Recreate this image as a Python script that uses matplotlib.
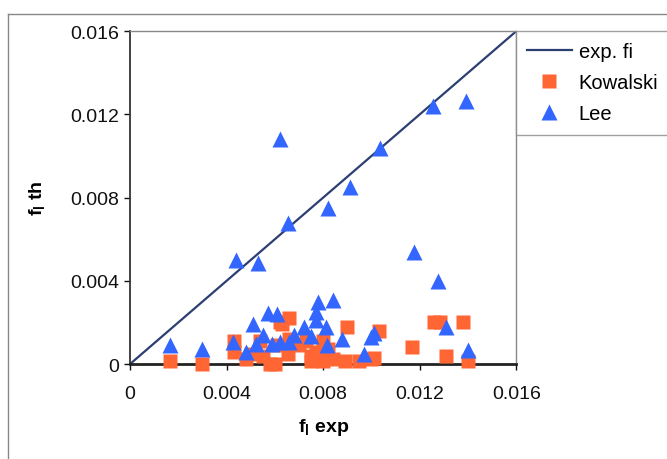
import matplotlib
matplotlib.use("Agg")
import matplotlib.pyplot as plt
from matplotlib.lines import Line2D

plt.rcParams['font.family'] = ['Liberation Sans', 'DejaVu Sans']
plt.rcParams['mathtext.fontset'] = 'custom'
plt.rcParams['mathtext.bf'] = 'Liberation Sans:bold'
plt.rcParams['mathtext.rm'] = 'Liberation Sans'

# Kowalski model: experimental vs theoretical f_l
kow_x = [0.00166, 0.0030, 0.0043, 0.0043, 0.0048, 0.0050, 0.0054, 0.0055, 0.0058,
         0.0060, 0.0061, 0.0062, 0.0063, 0.0066, 0.00655, 0.0066, 0.0070, 0.0073,
         0.0075, 0.0075, 0.0077, 0.0080, 0.0080, 0.0082, 0.0084, 0.0089, 0.0090,
         0.0095, 0.0100, 0.0101, 0.0103, 0.0117, 0.01258, 0.01285, 0.0131, 0.0138,
         0.0140]
kow_y = [0.00015, 0.00002, 0.0011, 0.0006, 0.00025, 0.0005, 0.0011, 0.0004, 0.0000,
         0.0000, 0.0009, 0.0020, 0.0019, 0.0022, 0.0005, 0.0012, 0.0009, 0.0011,
         0.0004, 0.00015, 0.0006, 0.0011, 0.00015, 0.0007, 0.00025, 0.00015, 0.0018,
         0.00015, 0.00025, 0.0003, 0.0016, 0.0008, 0.0020, 0.0020, 0.0004, 0.0020,
         0.00015]

# Lee model
lee_x = [0.00166, 0.0030, 0.0044, 0.0053, 0.0062, 0.00655, 0.0082, 0.0091, 0.01035,
         0.01255, 0.0139, 0.01175, 0.01275, 0.0131, 0.0140, 0.0057, 0.0061, 0.0051,
         0.00428, 0.0048, 0.0052, 0.0055, 0.0059, 0.0062, 0.0066, 0.0068, 0.0072,
         0.0075, 0.0078, 0.0084, 0.0077, 0.0077, 0.0081, 0.00815, 0.0088, 0.0097,
         0.0100, 0.0101]
lee_y = [0.0009, 0.0007, 0.0050, 0.00485, 0.0108, 0.0068, 0.0075, 0.0085, 0.0104,
         0.0124, 0.01265, 0.0054, 0.0040, 0.0018, 0.00068, 0.00245, 0.0024, 0.0019,
         0.00105, 0.0006, 0.00096, 0.0014, 0.00096, 0.00105, 0.00105, 0.0014, 0.0018,
         0.00135, 0.0030, 0.0031, 0.0025, 0.0021, 0.0018, 0.0009, 0.0012, 0.0005,
         0.0013, 0.0015]

# 1:1 line
ref_x = [0, 0.016]
ref_y = [0, 0.016]

ticks = [0, 0.004, 0.008, 0.012, 0.016]
tick_labels = ['0', '0.004', '0.008', '0.012', '0.016']

fig = plt.figure(figsize=(6.67, 4.6), dpi=100)
ax = fig.add_axes([0.195, 0.2065, 0.579, 0.7235])

ax.plot(ref_x, ref_y, color='#2b3f73', lw=1.6, label='exp. fi', zorder=2)
ax.plot(kow_x, kow_y, 's', color='#ff6633', ms=10, mec='none', label='Kowalski',
        clip_on=False, zorder=3)
ax.plot(lee_x, lee_y, '^', color='#3366ff', ms=11, mec='none', label='Lee',
        clip_on=False, zorder=4)

ax.set_xlim(0, 0.016)
ax.set_ylim(0, 0.016)
ax.set_xticks(ticks)
ax.set_xticklabels(tick_labels)
ax.set_yticks(ticks)
ax.set_yticklabels(tick_labels)
ax.tick_params(labelsize=14, length=4, width=1, colors='#111111', pad=4)
ax.tick_params(axis='x', pad=11)

for side in ['top', 'right']:
    ax.spines[side].set_color('#888888')
    ax.spines[side].set_linewidth(1)
ax.spines['left'].set_color('#333333')
ax.spines['left'].set_linewidth(1.3)
ax.spines['bottom'].set_color('#222222')
ax.spines['bottom'].set_linewidth(2)

ax.set_xlabel(r'f$_\mathbf{l}$ exp', fontsize=14, fontweight='bold', labelpad=10)
ax.set_ylabel(r'f$_\mathbf{l}$ th', fontsize=14, fontweight='bold', labelpad=16)

leg = ax.legend(loc='upper left', bbox_to_anchor=(1.0, 1.0), borderaxespad=0,
                fontsize=14.5, frameon=True, fancybox=False, handlelength=2.2,
                handletextpad=0.35, labelspacing=0.6, borderpad=0.55)
leg.get_frame().set_edgecolor('#888888')
leg.get_frame().set_linewidth(1)

# chart area border
fig.add_artist(Line2D([0.012, 0.012], [0, 0.968], transform=fig.transFigure,
                      color='#888888', lw=1))
fig.add_artist(Line2D([0.012, 1.0], [0.968, 0.968], transform=fig.transFigure,
                      color='#888888', lw=1))

fig.savefig('out.png', dpi=100)
